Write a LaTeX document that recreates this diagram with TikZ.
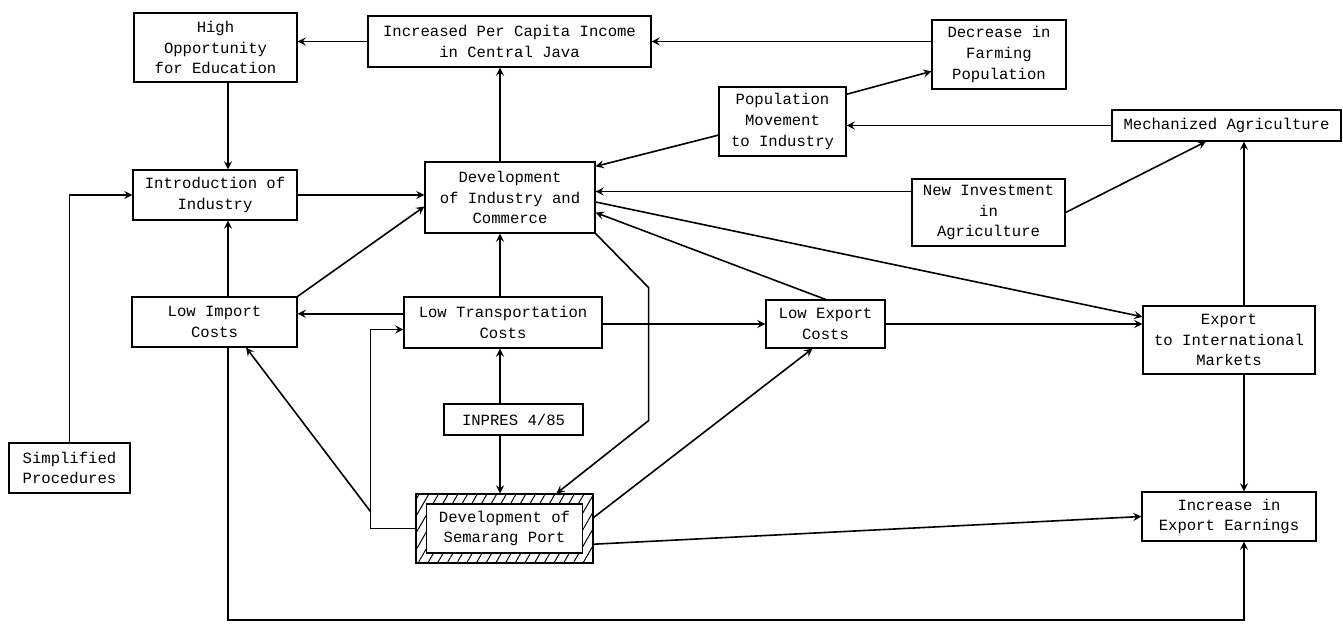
\documentclass[tikz,border=0pt]{standalone}
\usepackage{fontspec}
\setmonofont{Liberation Mono}
\usetikzlibrary{arrows, patterns.meta}
\tikzstyle{block} = [rectangle, draw=black, semithick, text centered, align=center, inner sep=0pt, font=\ttfamily\fontsize{7.8}{10.4}\selectfont]
\tikzstyle{hatched} = [rectangle, draw=black, semithick, pattern={Lines[angle=60,distance=4.2pt,line width=0.5pt]}]
\tikzstyle{arrow} = [thick,->,>=stealth]

\begin{document}
\begin{tikzpicture}
[x=0.5pt, y=-0.5pt]
\useasboundingbox (0,0) rectangle (1343,632);

% lines the vertical connectors run on
\coordinate (leftaxis) at (228,0);
\coordinate (axis) at (500,0);
\coordinate (rightaxis) at (1244,0);
\coordinate (floor) at (0,620);

\node (hiopp) [block, minimum width=81.5pt, minimum height=34.5pt] at (215.5,47.5) {High\\Opportunity\\for Education};
\node (income) [block, minimum width=141.5pt, minimum height=25.5pt] at (509.5,41.5) {Increased Per Capita Income\\in Central Java};
\node (decfarm) [block, minimum width=67pt, minimum height=34.5pt] at (999,54.5) {Decrease in\\Farming\\Population};
\node (popmove) [block, minimum width=63.5pt, minimum height=34.5pt] at (782.5,121.5) {Population\\Movement\\to Industry};
\node (mechagri) [block, minimum width=114.5pt, minimum height=15.5pt] at (1226.5,125.5) {Mechanized Agriculture};
\node (intro) [block, minimum width=82pt, minimum height=25pt] at (215,195) {Introduction of\\Industry};
\node (devind) [block, minimum width=85pt, minimum height=35.5pt] at (510,197.5) {Development\\of Industry and\\Commerce};
\node (newinv) [block, minimum width=76.5pt, minimum height=33.5pt] at (988.5,212.5) {New Investment\\in\\Agriculture};
\node (lowimp) [block, minimum width=82.5pt, minimum height=25pt] at (214.5,322) {Low Import\\Costs};
\node (lowtrans) [block, minimum width=99pt, minimum height=25.5pt] at (503,322.5) {Low Transportation\\Costs};
\node (lowexp) [block, minimum width=59.5pt, minimum height=24pt] at (825.5,324) {Low Export\\Costs};
\node (expint) [block, minimum width=86pt, minimum height=34pt] at (1229,340) {Export\\to International\\Markets};
\node (inpres) [block, minimum width=69.5pt, minimum height=15.5pt] at (513.5,419.5) {INPRES 4/85};
\node (simproc) [block, minimum width=60.5pt, minimum height=25pt] at (69.5,468) {Simplified\\Procedures};
\node (port) [hatched, minimum width=88.5pt, minimum height=34.5pt] at (504.5,528.5) {};
\node (portin) [block, fill=white, minimum width=78pt, minimum height=24.5pt] at (port) {Development of\\Semarang Port};
\node (incearn) [block, minimum width=87pt, minimum height=24.5pt] at (1229,516.5) {Increase in\\Export Earnings};

\coordinate (split) at ([shift={(-45,-17)}]port.west);

\draw [arrow] (income.west) -- (income.west -| hiopp.east);
\draw [arrow] (decfarm.west |- income.east) -- (income.east);
\draw [arrow] (popmove.23) -- (decfarm.194);
\draw [arrow] (mechagri.west) -- (mechagri.west -| popmove.east);
\draw [arrow] (popmove.192) -- (devind.20);
\draw [arrow] (newinv.west |- devind.4) -- (devind.4);
\draw [arrow] (newinv.east) -- (mechagri.218);
\draw [arrow] (expint.north -| rightaxis) -- (mechagri.south -| rightaxis);
\draw [arrow] (expint.south -| rightaxis) -- (incearn.north -| rightaxis);
\draw [arrow] (devind.north -| axis) -- (income.south -| axis);
\draw [arrow] (hiopp.south -| leftaxis) -- (intro.north -| leftaxis);
\draw [arrow] (simproc.north) |- (intro.west);
\draw [arrow] (intro.east) -- (intro.east -| devind.west);
\draw [arrow] (lowimp.north -| leftaxis) -- (intro.south -| leftaxis);
\draw [arrow] (lowimp.north east) -- (devind.186);
\draw [arrow] (lowtrans.175) -- (lowtrans.175 -| lowimp.east);
\draw [arrow] (lowtrans.north -| axis) -- (devind.south -| axis);
\draw [arrow] (lowtrans.east |- lowexp.west) -- (lowexp.west);
\draw [arrow] (lowexp.north) -- (devind.350);
\draw [arrow] (devind.357) -- (expint.165);
\draw [arrow] (lowexp.east) -- (lowexp.east -| expint.west);
\draw [arrow] (inpres.north -| axis) -- (lowtrans.south -| axis);
\draw [arrow] (inpres.south -| axis) -- (port.north -| axis);
\draw [arrow] (devind.south east) -- ++(53,54) -- ++(0,133) -- (port.34);
\draw [arrow] (port.west) -- ++(-45,0) |- (lowtrans.184);
\draw [arrow] (split) -- (lowimp.321);
\draw [arrow] (port.7) -- (lowexp.242);
\draw [arrow] (port.350) -- (incearn.west);
\draw [arrow] (lowimp.south -| leftaxis) -- (floor -| leftaxis) -- (floor -| rightaxis) -- (incearn.south -| rightaxis);

\end{tikzpicture}
\end{document}
